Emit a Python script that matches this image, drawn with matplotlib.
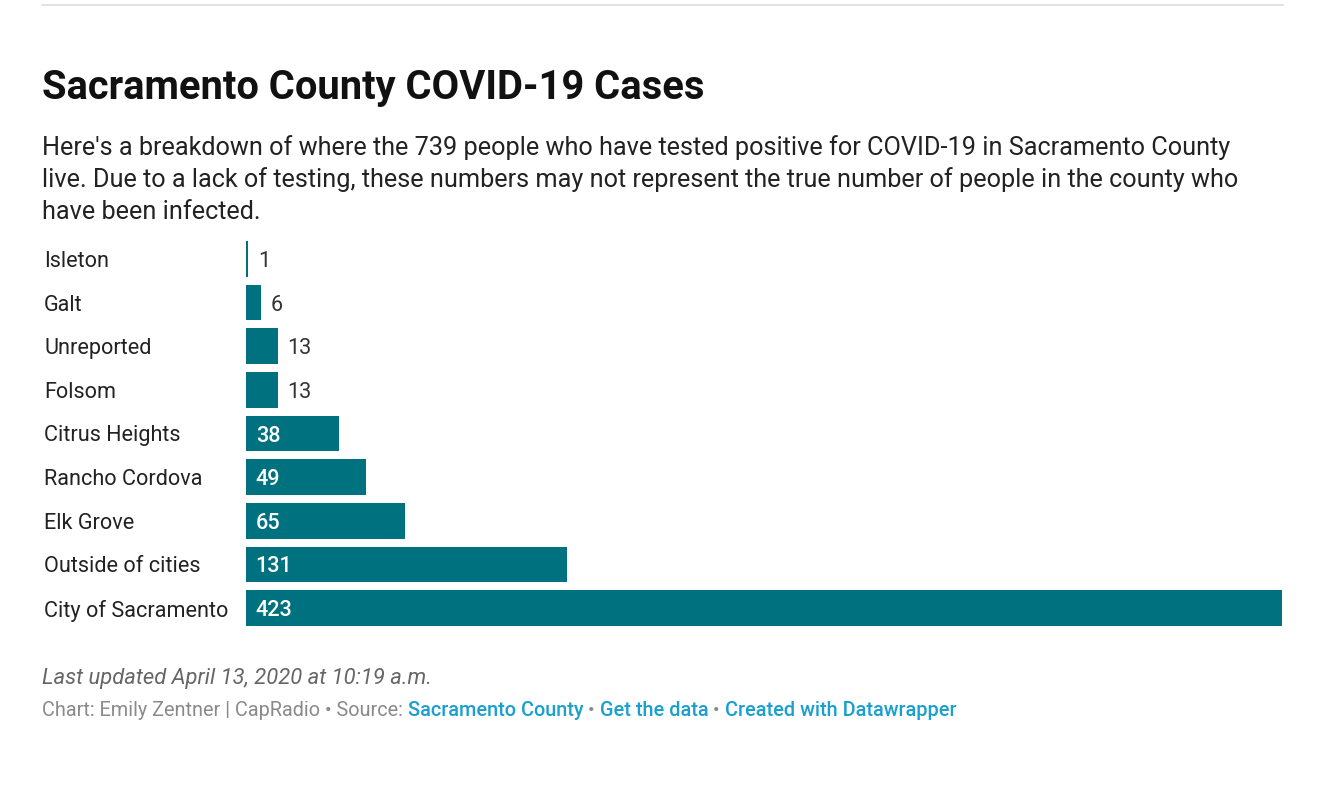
import matplotlib
matplotlib.use("Agg")
import matplotlib.pyplot as plt
from matplotlib.lines import Line2D

plt.rcParams['font.family'] = ['Roboto', 'DejaVu Sans']

categories = ["Isleton", "Galt", "Unreported", "Folsom", "Citrus Heights",
              "Rancho Cordova", "Elk Grove", "Outside of cities", "City of Sacramento"]
values = [1, 6, 13, 13, 38, 49, 65, 131, 423]
bar_color = "#00717e"

W, H = 1326, 790
fig = plt.figure(figsize=(W/100, H/100), dpi=100)
fig.add_artist(Line2D([42/W, 1283/W], [1-5/H, 1-5/H], color="#dddddd", lw=1.2))

fig.text(42/W, 1-88/H, "Sacramento County COVID-19 Cases", fontsize=28.7, fontweight="bold",
         va="center", color="#111111")
sub_lines = ["Here's a breakdown of where the 739 people who have tested positive for COVID-19 in Sacramento County",
             "live. Due to a lack of testing, these numbers may not represent the true number of people in the county who",
             "have been infected."]
for k, s in enumerate(sub_lines):
    fig.text(42/W, 1-(145+32*k)/H, s, fontsize=18.2, va="center_baseline", color="#222222")

ax = fig.add_axes([246/W, 1-626/H, 1036/W, (626-241)/H])
h = 0.82
ax.barh(range(len(values)), values, height=h, color=bar_color)
ax.set_xlim(0, max(values))
ax.set_ylim(len(values)-1+h/2, -h/2)
ax.axis("off")
for i, (c, v) in enumerate(zip(categories, values)):
    ax.annotate(c, (0, i), xycoords=("figure pixels", "data"), xytext=(44, 0),
                textcoords=("figure pixels", "offset points"), va="center_baseline", ha="left",
                fontsize=15.6, color="#222222")
    if v >= 30:
        ax.annotate(str(v), (0, i), xytext=(7, 0), textcoords="offset points",
                    va="center_baseline", ha="left", fontsize=15.6, color="white", fontweight="medium")
    else:
        ax.annotate(str(v), (v, i), xytext=(7, 0), textcoords="offset points",
                    va="center_baseline", ha="left", fontsize=15.6, color="#333333")

fig.text(42/W, 1-676/H, "Last updated April 13, 2020 at 10:19 a.m.", fontsize=15.8,
         style="italic", color="#666666", va="center_baseline")

parts = [("Chart: Emily Zentner | CapRadio • Source: ", "#8a8a8a", "normal"),
         ("Sacramento County", "#1a9fcf", "medium"),
         (" • ", "#8a8a8a", "normal"),
         ("Get the data", "#1a9fcf", "medium"),
         (" • ", "#8a8a8a", "normal"),
         ("Created with Datawrapper", "#1a9fcf", "medium")]
fig.canvas.draw()
r = fig.canvas.get_renderer()
x = 42
for s, col, wt in parts:
    t = fig.text(x/W, 1-716/H, s, fontsize=14.3, color=col, fontweight=wt, va="baseline")
    bb = t.get_window_extent(renderer=r)
    x += bb.width
fig.savefig("out.png", dpi=100)
